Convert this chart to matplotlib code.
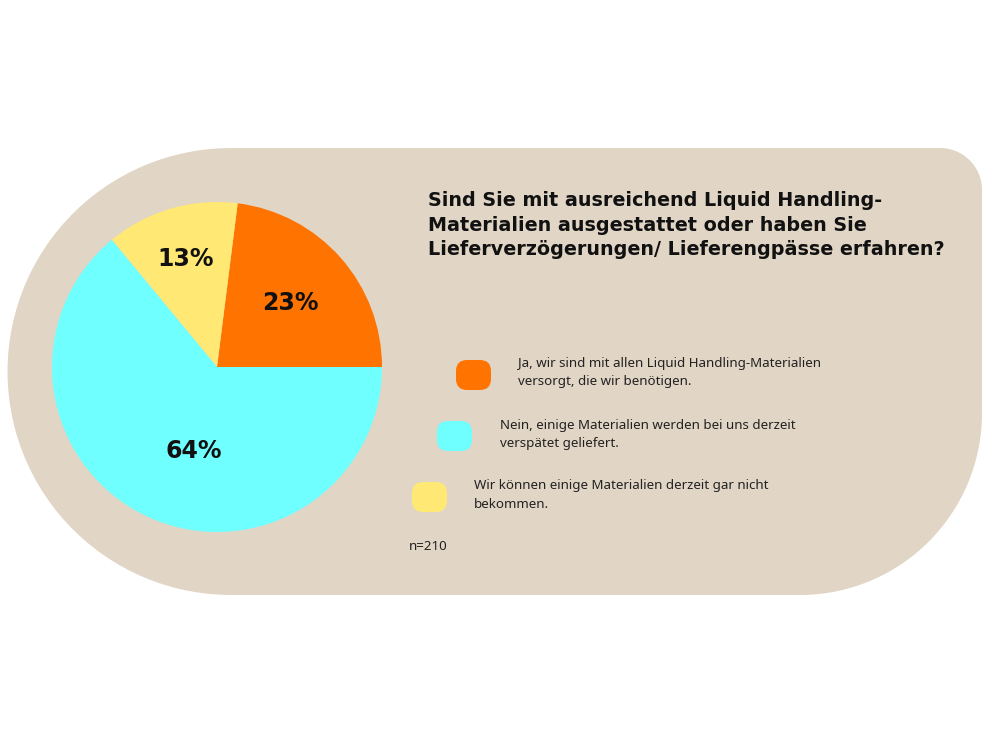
import matplotlib.pyplot as plt
from matplotlib.path import Path
from matplotlib.patches import PathPatch, FancyBboxPatch
import numpy as np

# Daten
labels = ['Ja, wir sind mit allen Liquid Handling-Materialien\nversorgt, die wir benötigen.',
          'Nein, einige Materialien werden bei uns derzeit\nverspätet geliefert.',
          'Wir können einige Materialien derzeit gar nicht\nbekommen.']
values = [23, 64, 13]
colors = ['#FF7300', '#6FFFFF', '#FFE873']
title = ('Sind Sie mit ausreichend Liquid Handling-\n'
         'Materialien ausgestattet oder haben Sie\n'
         'Lieferverzögerungen/ Lieferengpässe erfahren?')
note = 'n=210'

H = 750
fig = plt.figure(figsize=(10, 7.5), dpi=100)
ax = fig.add_axes([0, 0, 1, 1])
ax.set_xlim(0, 1000)
ax.set_ylim(0, H)
ax.set_aspect('equal')
ax.axis('off')

# Hintergrundform (links Halbkreis, rechts abgerundete Ecken)
def arc(cx, cy, r, a0, a1, n=60):
    t = np.radians(np.linspace(a0, a1, n))
    return list(zip(cx + r * np.cos(t), cy + r * np.sin(t)))

top, bot = H - 148, H - 595
R = (top - bot) / 2
cy = (top + bot) / 2
pts = []
pts += arc(231, cy, R, 90, 270)                # links
pts += arc(982 - 182, bot + 182, 182, 270, 360)  # unten rechts
pts += arc(982 - 42, top - 42, 42, 0, 90)        # oben rechts
pts.append(pts[0])
ax.add_patch(PathPatch(Path(pts), facecolor='#E1D5C5', edgecolor='none', zorder=0))

# Kreisdiagramm
order = [0, 2, 1]
center = (217, H - 367)
radius = 165
wedges, _ = ax.pie([values[i] for i in order], colors=[colors[i] for i in order],
                   startangle=0, counterclock=True, center=center, radius=radius,
                   wedgeprops=dict(linewidth=0), frame=True)
ax.set_xlim(0, 1000)
ax.set_ylim(0, H)
ax.axis('off')

label_r = [0.59, 0.68, 0.53]
label_da = [0, 0, 10]
for w, i, lr, da in zip(wedges, order, label_r, label_da):
    mid = np.radians((w.theta1 + w.theta2) / 2 + da)
    ax.text(center[0] + lr * radius * np.cos(mid), center[1] + lr * radius * np.sin(mid),
            f'{values[i]}%', ha='center', va='center', fontsize=17,
            fontweight='bold', color='#111111', zorder=5)

# Titel
ax.text(428, H - 191, title, ha='left', va='top', fontsize=13.8, fontweight='bold',
        color='#111111', linespacing=1.38, family='DejaVu Sans')

# Legende
marker_x = [456, 437, 412]
marker_y = [375, 436, 497]
text_x = [518, 500, 474]
for k in range(len(labels)):
    box = FancyBboxPatch((marker_x[k] + 4, H - marker_y[k] - 11), 27, 22,
                         boxstyle='round,pad=4,rounding_size=11',
                         facecolor=colors[k], edgecolor='none', zorder=3)
    ax.add_patch(box)
    ax.text(text_x[k], H - marker_y[k] + 2, labels[k], ha='left', va='center',
            fontsize=9.6, color='#222222', linespacing=1.5, family='Noto Sans')

ax.text(409, H - 546, note, ha='left', va='center', fontsize=9.6,
        color='#222222', family='Noto Sans')

fig.savefig('out.png', dpi=100, facecolor='white')
